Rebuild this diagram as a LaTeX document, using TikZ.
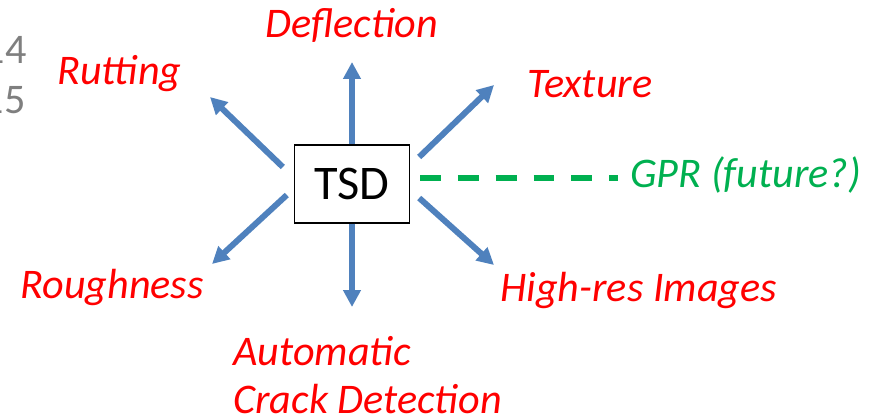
\documentclass[tikz,border=0pt]{standalone}
\usepackage{fontspec}
\setmainfont{Carlito}
\usetikzlibrary{arrows.meta}

\definecolor{arrowblue}{HTML}{4F81BD}
\definecolor{gprgreen}{HTML}{00B050}
\definecolor{slidegrey}{HTML}{7F7F7F}

\tikzset{
  measure/.style={red, font=\fontsize{24}{27.2}\selectfont\itshape, inner sep=0pt, anchor=base west},
  probe/.style={arrowblue, line width=3.4pt, -{Triangle[length=9.6pt,width=9.6pt]}},
  future/.style={gprgreen, line width=3.4pt, dash pattern=on 11.9pt off 9.6pt}
}

\begin{document}
\begin{tikzpicture}[x=0.02cm, y=-0.02cm]
\useasboundingbox (0,0) rectangle (869,419);

% page numbers of the slide, cut at the edge
\node[slidegrey, font=\fontsize{24}{27.2}\selectfont, inner sep=0pt, anchor=base east] (pgA) at (27,63) {14};
\node[slidegrey, font=\fontsize{24}{27.2}\selectfont, inner sep=0pt, anchor=base east] (pgB) at (26,113) {15};

% the vehicle
\node[draw, line width=0.8pt, minimum width=2.3cm, minimum height=1.56cm, font=\fontsize{27.5}{30}\selectfont] (tsd) at (352,184) {TSD};

% what it measures
\node[measure] (defl) at (265,37) {Deflection};
\node[measure] (rut) at (57,84) {Rutting};
\node[measure] (tex) at (527,97) {Texture};
\node[measure] (rough) at (20,298) {Roughness};
\node[measure] (img) at (500,301) {High-res Images};
\node[measure, align=left] (crack) at (233,413) {Automatic\\Crack Detection};
\node[measure, gprgreen] (gpr) at (630,187) {GPR (future?)};

% arrow tips
\coordinate (tipN) at (352,62);
\coordinate (tipS) at (352,307);
\coordinate (tipNW) at (210,97);
\coordinate (tipSW) at (212,264);
\coordinate (tipNE) at (494,85);
\coordinate (tipSE) at (494,265);
\coordinate (gprend) at (618,178);

\draw[probe] (tsd.north) -- (tipN);
\draw[probe] (tsd.south) -- (tipS);
\draw[probe] ([shift={(-11,-17)}]tsd.west) -- (tipNW);
\draw[probe] ([shift={(-7,11)}]tsd.west) -- (tipSW);
\draw[probe] ([shift={(9,-27)}]tsd.east) -- (tipNE);
\draw[probe] ([shift={(9,14)}]tsd.east) -- (tipSE);
\draw[future] ([shift={(10,-6)}]tsd.east) -- (gprend);
\end{tikzpicture}
\end{document}
